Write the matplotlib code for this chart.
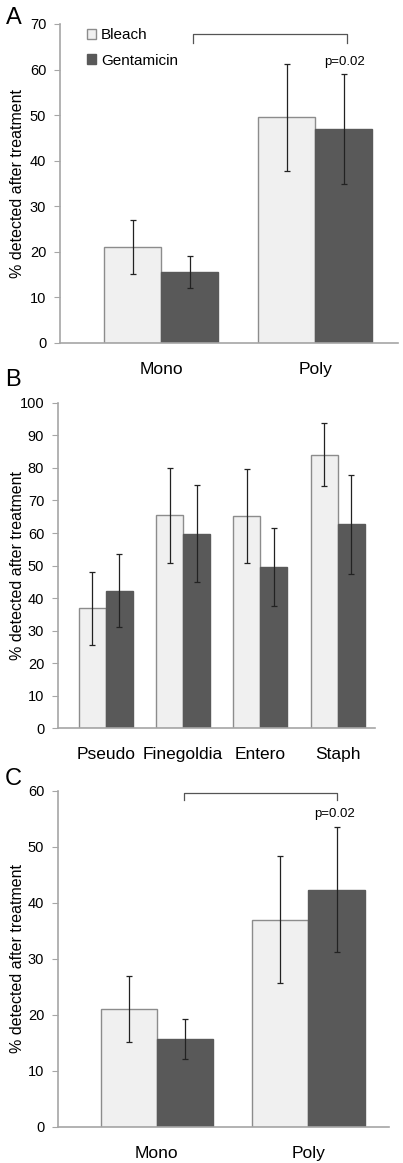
import matplotlib.pyplot as plt
import numpy as np
from matplotlib.patches import Patch

plt.rcParams['font.family'] = ['Liberation Sans', 'DejaVu Sans']

# Panel A data
a_groups = ['Mono', 'Poly']
a_bleach = [21.0, 49.5]
a_bleach_err = [5.9, 11.8]
a_gent = [15.6, 46.9]
a_gent_err = [3.5, 12.1]

# Panel B data
b_groups = ['Pseudo', 'Finegoldia', 'Entero', 'Staph']
b_bleach = [36.8, 65.5, 65.3, 84.1]
b_bleach_err = [11.3, 14.6, 14.5, 9.6]
b_gent = [42.3, 59.8, 49.5, 62.7]
b_gent_err = [11.1, 15.0, 12.0, 15.2]

# Panel C data
c_groups = ['Mono', 'Poly']
c_bleach = [21.1, 37.0]
c_bleach_err = [5.9, 11.3]
c_gent = [15.7, 42.4]
c_gent_err = [3.5, 11.15]

light = '#f0f0f0'
dark = '#595959'
edge = '#8c8c8c'
axis_col = '#a6a6a6'

fig = plt.figure(figsize=(4.03, 11.63), dpi=100)


def draw(ax, groups, bleach, berr, gent, gerr, width, ymax, step, xlim):
    x = np.arange(len(groups))
    ax.bar(x - width / 2, bleach, width, color=light, edgecolor=edge, linewidth=1, zorder=2)
    ax.bar(x + width / 2, gent, width, color=dark, edgecolor=dark, linewidth=1, zorder=2)
    ax.errorbar(x - width / 2, bleach, yerr=berr, fmt='none', ecolor='#222222',
                elinewidth=0.9, capsize=2.5, capthick=0.9, zorder=3)
    ax.errorbar(x + width / 2, gent, yerr=gerr, fmt='none', ecolor='#222222',
                elinewidth=0.9, capsize=2.5, capthick=0.9, zorder=3)
    ax.set_ylim(0, ymax)
    ax.set_xlim(*xlim)
    ax.set_yticks(np.arange(0, ymax + 1, step))
    ax.set_xticks(x)
    ax.set_xticklabels(groups, fontsize=12.5)
    ax.tick_params(axis='x', length=0, pad=14)
    ax.tick_params(axis='y', labelsize=10.5, length=4, color=axis_col, pad=6)
    for s in ['top', 'right']:
        ax.spines[s].set_visible(False)
    for s in ['left', 'bottom']:
        ax.spines[s].set_color(axis_col)
        ax.spines[s].set_linewidth(1.2)
    ax.set_ylabel('% detected after treatment', fontsize=11.5, va='center')
    # put the y label centre about 18 px from the figure's left edge
    pos = ax.get_position()
    ax.yaxis.set_label_coords((18 / 403 - pos.x0) / pos.width, 0.5)


# A
axA = fig.add_axes([0.149, 0.7051, 0.839, 0.2743])
draw(axA, a_groups, a_bleach, a_bleach_err, a_gent, a_gent_err, 0.37, 70, 10, (-0.656, 1.539))
axA.plot([0.21, 0.21, 1.21, 1.21], [65.8, 67.8, 67.8, 65.8], color='#555555', lw=0.9)
axA.text(1.19, 61.7, 'p=0.02', ha='center', va='center', fontsize=9.5)
handles = [Patch(facecolor=light, edgecolor=edge), Patch(facecolor=dark, edgecolor=dark)]
axA.legend(handles, ['Bleach', 'Gentamicin'], loc='upper left', bbox_to_anchor=(0.04, 1.03),
           frameon=False, fontsize=11, handlelength=0.6, handleheight=0.6,
           handletextpad=0.3, labelspacing=0.75)
fig.text(0.015, 0.994, 'A', fontsize=17, va='top')

# B
axB = fig.add_axes([0.144, 0.3740, 0.786, 0.2795])
draw(axB, b_groups, b_bleach, b_bleach_err, b_gent, b_gent_err, 0.35, 100, 10, (-0.62, 3.48))
fig.text(0.012, 0.683, 'B', fontsize=17, va='top')

# C
axC = fig.add_axes([0.144, 0.0310, 0.821, 0.2889])
draw(axC, c_groups, c_bleach, c_bleach_err, c_gent, c_gent_err, 0.37, 60, 10, (-0.65, 1.53))
axC.plot([0.18, 0.18, 1.19, 1.19], [58.4, 59.6, 59.6, 58.4], color='#555555', lw=0.9)
axC.text(1.17, 55.9, 'p=0.02', ha='center', va='center', fontsize=9.5)
fig.text(0.012, 0.340, 'C', fontsize=17, va='top')

fig.savefig('out.png', dpi=100)
